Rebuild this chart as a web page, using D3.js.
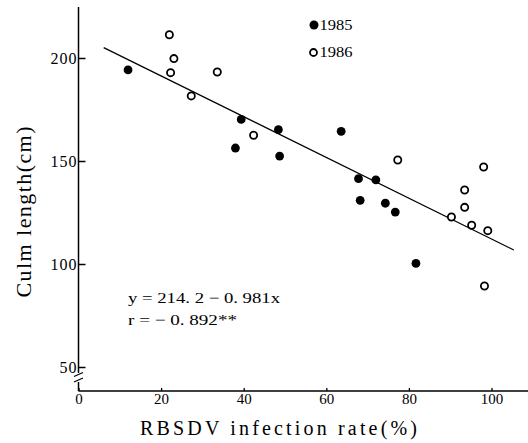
<!doctype html>
<html>
  <head>
    <meta charset="utf-8">
    <title>Culm length vs RBSDV infection rate</title>
    <style>
      * { margin: 0; padding: 0; }
      body { background: #fff; }
      svg { display: block; }
      svg text { font-family: "Liberation Serif", "DejaVu Serif", serif !important; }
    </style>
    <script src="https://d3js.org/d3.v7.min.js"></script>
  </head>
  <body>
    <div id="chart"></div>
    <script>
    // 1985 (filled dots)
    const x1985 = [12.0, 39.4, 38.0, 48.4, 48.7, 63.6, 67.8, 72.0, 68.2, 74.3, 76.7, 81.7];
    const y1985 = [194.2, 170.2, 156.3, 165.2, 152.4, 164.4, 141.4, 140.8, 130.9, 129.5, 125.2, 100.3];
    // 1986 (open circles)
    const x1986 = [22.0, 23.1, 22.3, 27.3, 33.6, 42.4, 77.3, 98.1, 93.5, 93.5, 90.3, 95.2, 99.1, 98.3];
    const y1986 = [211.3, 199.7, 192.9, 181.6, 193.2, 162.5, 150.5, 147.1, 135.9, 127.5, 122.8, 118.8, 116.2, 89.3];
    // regression line ends
    const lineX = [6.1, 105.4];
    const lineY = [205.0, 106.8];
    const xTicks = [0, 20, 40, 60, 80, 100];
    const yTicks = [50, 100, 150, 200];
    const legendLabels = ["1985", "1986"];
    const eqLines = ["y = 214. 2 \u2212 0. 981x", "r = \u2212 0. 892**"];

    const W = 528, H = 443;
    const svg = d3.select("#chart").append("svg").attr("width", W).attr("height", H);

    const x = d3.scaleLinear().domain([0, 100]).range([78.5, 491.5]);
    const y = d3.scaleLinear().domain([50, 200]).range([367, 58]);
    const axisY = 391;

    // x axis
    svg.append("line")
      .attr("x1", x(0)).attr("x2", x(109))
      .attr("y1", axisY).attr("y2", axisY)
      .attr("stroke", "#000").attr("stroke-width", 1.5);
    const gx = svg.append("g")
      .attr("transform", "translate(0," + axisY + ")")
      .call(d3.axisBottom(x).tickValues(xTicks).tickSizeInner(-3).tickSizeOuter(0).tickPadding(2));
    gx.select(".domain").remove();
    gx.selectAll("line").attr("stroke-width", 1.3);
    gx.selectAll("text").style("font-size", "15px");

    // y axis (with break near the bottom)
    svg.append("line")
      .attr("x1", x(0)).attr("x2", x(0))
      .attr("y1", 7).attr("y2", 373)
      .attr("stroke", "#000").attr("stroke-width", 1.5);
    svg.append("line")
      .attr("x1", x(0)).attr("x2", x(0))
      .attr("y1", 382).attr("y2", axisY)
      .attr("stroke", "#000").attr("stroke-width", 1.5);
    [374.5, 380].forEach(function (b) {
      svg.append("line")
        .attr("x1", x(0) - 4.5).attr("x2", x(0) + 4.5)
        .attr("y1", b + 2).attr("y2", b - 2)
        .attr("stroke", "#000").attr("stroke-width", 1.3);
    });
    const gy = svg.append("g")
      .attr("transform", "translate(" + x(0) + ",0)")
      .call(d3.axisLeft(y).tickValues(yTicks).tickSizeInner(-7).tickSizeOuter(0).tickPadding(1));
    gy.select(".domain").remove();
    gy.selectAll("line").attr("stroke-width", 1.5);
    gy.selectAll("text").style("font-size", "16px").style("letter-spacing", "1px");

    // regression line
    svg.append("path")
      .datum(d3.zip(lineX, lineY))
      .attr("d", d3.line().x(d => x(d[0])).y(d => y(d[1])))
      .attr("fill", "none").attr("stroke", "#000").attr("stroke-width", 1.3);

    // points
    svg.selectAll(".p85").data(d3.zip(x1985, y1985)).enter().append("circle")
      .attr("cx", d => x(d[0])).attr("cy", d => y(d[1])).attr("r", 4.4)
      .attr("fill", "#000");
    svg.selectAll(".p86").data(d3.zip(x1986, y1986)).enter().append("circle")
      .attr("cx", d => x(d[0])).attr("cy", d => y(d[1])).attr("r", 3.6)
      .attr("fill", "#fff").attr("stroke", "#000").attr("stroke-width", 1.8);

    // legend
    const lg = svg.append("g");
    lg.append("circle").attr("cx", 314).attr("cy", 25).attr("r", 4.5).attr("fill", "#000");
    lg.append("circle").attr("cx", 313.5).attr("cy", 52.5).attr("r", 3.5)
      .attr("fill", "#fff").attr("stroke", "#000").attr("stroke-width", 1.8);
    lg.selectAll("text").data(legendLabels).enter().append("text")
      .attr("x", 319.5).attr("y", (d, i) => 29.5 + i * 27.8)
      .attr("textLength", 33).attr("lengthAdjust", "spacingAndGlyphs")
      .style("font-size", "15px").text(d => d);

    // equation
    svg.selectAll(".eq").data(eqLines).enter().append("text")
      .attr("x", 128).attr("y", (d, i) => 303 + i * 22)
      .attr("textLength", (d, i) => i === 0 ? 152 : 109)
      .attr("lengthAdjust", "spacingAndGlyphs")
      .style("font-size", "15px").text(d => d);

    // axis titles
    svg.append("text")
      .attr("x", 140).attr("y", 435)
      .attr("textLength", 277).attr("lengthAdjust", "spacing")
      .style("font-size", "20px")
      .text("RBSDV infection rate(%)");
    svg.append("text")
      .attr("transform", "translate(31,212) rotate(-90)")
      .attr("text-anchor", "middle")
      .attr("textLength", 171).attr("lengthAdjust", "spacing")
      .style("font-size", "22px")
      .text("Culm length(cm)");
    </script>
  </body>
</html>
